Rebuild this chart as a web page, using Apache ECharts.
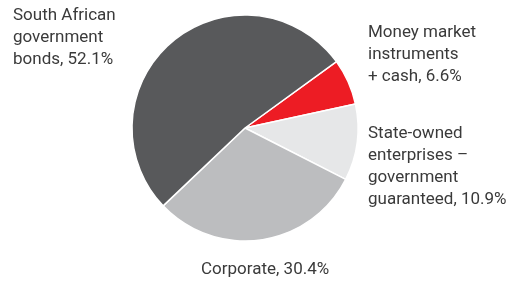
<!DOCTYPE html>
<html>
<head>
<meta charset="utf-8">
<script src="https://cdn.jsdelivr.net/npm/echarts@6/dist/echarts.min.js"></script>
<style>
  html, body { margin: 0; padding: 0; background: #fff; }
  #myChart { width: 510px; height: 282px; }
</style>
</head>
<body>
<div id="myChart"></div>
<script>
// slice order is clockwise from the red slice
var names = [
    'Money market\ninstruments\n+ cash',
    'State-owned\nenterprises –\ngovernment\nguaranteed',
    'Corporate',
    'South African\ngovernment\nbonds'
];
var values = [6.6, 10.9, 30.4, 52.1];
var colors = ['#ed1c24', '#e6e7e8', '#bcbdbf', '#58595b'];
// where each label sits (top-left corner of its text block)
var labelSpots = [[368, 22], [368, 123], [201, 259], [13, 5]];

var myChart = echarts.init(document.getElementById('myChart'));

var option = {
    animation: false,
    series: [{
        type: 'pie',
        center: [245, 128],
        radius: 113,
        startAngle: 36,
        clockwise: true,
        avoidLabelOverlap: false,
        itemStyle: {
            borderColor: '#fff',
            borderWidth: 1.5
        },
        label: {
            show: true,
            color: '#3a3a3a',
            fontFamily: 'Roboto',
            fontSize: 17,
            lineHeight: 22,
            formatter: function (p) {
                return p.name + ', ' + p.value.toFixed(1) + '%';
            }
        },
        labelLine: { show: false },
        labelLayout: function (p) {
            var s = labelSpots[p.dataIndex];
            return { x: s[0], y: s[1], align: 'left', verticalAlign: 'top' };
        },
        emphasis: { disabled: true },
        data: names.map(function (n, i) {
            return { name: n, value: values[i], itemStyle: { color: colors[i] } };
        })
    }]
};

myChart.setOption(option);
</script>
</body>
</html>
